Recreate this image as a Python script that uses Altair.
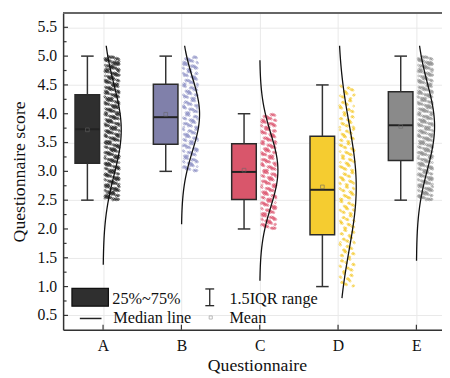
import altair as alt
import pandas as pd
import numpy as np

# ---------------- data ----------------
cats = ["A", "B", "C", "D", "E"]
q1 = [3.14, 3.47, 2.51, 1.90, 3.19]
q3 = [4.33, 4.51, 3.48, 3.61, 4.38]
medians = [3.73, 3.94, 2.99, 2.68, 3.80]
whisk_lo = [2.5, 3.0, 2.0, 1.0, 2.5]
whisk_hi = [5.0, 5.0, 4.0, 4.5, 5.0]
means = [3.72, 3.99, 3.02, 2.73, 3.78]
sds = [0.78, 0.64, 0.64, 1.10, 0.75]
curve_lo = [1.38, 2.08, 1.10, 0.80, 1.45]
curve_hi = [5.18, 5.18, 4.93, 5.18, 5.18]
# estimated number of raw scores in each 0.25-wide band, from the lowest score upward
band_counts = {
    "A": [70, 64, 64, 64, 64, 64, 64, 64, 64, 72],
    "B": [44, 42, 42, 42, 42, 42, 42, 46],
    "C": [50, 48, 48, 48, 48, 48, 48, 50],
    "D": [20, 20, 22, 24, 26, 26, 28, 28, 28, 28, 26, 26, 24, 22],
    "E": [64, 60, 60, 60, 60, 60, 60, 60, 60, 66],
}
box_fill = ["#2f2f2f", "#8080aa", "#d9566b", "#f5cc30", "#8a8a8a"]
pt_color = ["#1e1e1e", "#8a8dc4", "#dc4f6a", "#f5c518", "#8c8c8c"]
y_ticks = [0.5, 1.0, 1.5, 2.0, 2.5, 3.0, 3.5, 4.0, 4.5, 5.0, 5.5]
y_labels = ["0.5", "1.0", "1.5", "2.0", "2.5", "3.0", "3.5", "4.0", "4.5", "5.0", "5.5"]
y_minor = [0.75, 1.25, 1.75, 2.25, 2.75, 3.25, 3.75, 4.25, 4.75, 5.25]

# ---------------- layout constants (category units) ----------------
BOX_L, BOX_R, CENTER, CAP = -0.358, -0.044, -0.2, 0.08
STRIP_L, STRIP_W = 0.02, 0.19
CURVE_W = 0.232
W, H = 385, 322
FONT = "Liberation Serif"


def halton(i, b):
    f, r = 1.0, 0.0
    while i > 0:
        f /= b
        r += f * (i % b)
        i //= b
    return r


box_rows, pt_rows, curve_rows = [], [], []
for i, c in enumerate(cats):
    box_rows.append(dict(cat=c, xl=i + BOX_L, xr=i + BOX_R, xc=i + CENTER,
                         cl=i + CENTER - CAP, cr=i + CENTER + CAP,
                         q1=q1[i], q3=q3[i], med=medians[i], lo=whisk_lo[i],
                         hi=whisk_hi[i], mean=means[i], fill=box_fill[i]))
    for b, n in enumerate(band_counts[c]):
        for k in range(n):
            y = whisk_lo[i] + 0.25 * (b + halton(k + 1, 2))
            xf = ((k + 1) * 0.6180339887 + b * 0.37) % 1.0
            pt_rows.append(dict(cat=c, x=i + STRIP_L + STRIP_W * xf, y=y, col=pt_color[i]))
    for y in np.linspace(curve_lo[i], curve_hi[i], 120):
        z = (y - means[i]) / sds[i]
        curve_rows.append(dict(cat=c, x=i + CURVE_W * np.exp(-0.5 * z * z), y=y))

boxes = pd.DataFrame(box_rows)
pts = pd.DataFrame(pt_rows)
curves = pd.DataFrame(curve_rows)

xs = alt.Scale(domain=[-0.51, 4.327], nice=False, zero=False)
ys = alt.Scale(domain=[0.25, 5.75], nice=False, zero=False)

xaxis = alt.Axis(values=[0, 1, 2, 3, 4], labelExpr="['A','B','C','D','E'][datum.value]",
                 title="Questionnaire", grid=True, gridColor="#e9e9e9", tickSize=0,
                 labelOverlap=False,
                 labelPadding=8, labelFont=FONT, labelFontSize=16, labelColor="#111",
                 titleFont=FONT, titleFontSize=18, titleFontWeight="normal", titleColor="#111",
                 titlePadding=3, titleX=197, domainColor="#333", domainWidth=1.5)
yaxis = alt.Axis(values=y_ticks, labels=False,
                 title="Questionnaire score", grid=True, gridColor="#e9e9e9", tickSize=0,
                 titleFont=FONT, titleFontSize=18, titleFontWeight="normal", titleColor="#111",
                 titlePadding=35, domainColor="#333", domainWidth=1.5)

base_b = alt.Chart(boxes)

box = base_b.mark_rect(stroke="#2a2a2a", strokeWidth=1.5).encode(
    x=alt.X("xl:Q", scale=xs, axis=xaxis), x2="xr:Q",
    y=alt.Y("q1:Q", scale=ys, axis=yaxis), y2="q3:Q",
    fill=alt.Fill("fill:N", scale=None))
whisk_low = base_b.mark_rule(color="#333", strokeWidth=1.5).encode(
    x=alt.X("xc:Q", scale=xs), y=alt.Y("lo:Q", scale=ys), y2="q1:Q")
whisk_high = base_b.mark_rule(color="#333", strokeWidth=1.5).encode(
    x=alt.X("xc:Q", scale=xs), y=alt.Y("q3:Q", scale=ys), y2="hi:Q")
cap_low = base_b.mark_rule(color="#333", strokeWidth=1.5).encode(
    x=alt.X("cl:Q", scale=xs), x2="cr:Q", y=alt.Y("lo:Q", scale=ys))
cap_high = base_b.mark_rule(color="#333", strokeWidth=1.5).encode(
    x=alt.X("cl:Q", scale=xs), x2="cr:Q", y=alt.Y("hi:Q", scale=ys))
med = base_b.mark_rule(color="#222", strokeWidth=2).encode(
    x=alt.X("xl:Q", scale=xs), x2="xr:Q", y=alt.Y("med:Q", scale=ys))
mean = base_b.mark_point(shape="square", filled=False, size=14, color="#666",
                         strokeWidth=0.8).encode(
    x=alt.X("xc:Q", scale=xs), y=alt.Y("mean:Q", scale=ys))

points = alt.Chart(pts).mark_point(filled=False, size=3.5, strokeWidth=0.6, opacity=0.9).encode(
    x=alt.X("x:Q", scale=xs), y=alt.Y("y:Q", scale=ys),
    color=alt.Color("col:N", scale=None))

curve = alt.Chart(curves).mark_line(color="#111", strokeWidth=1.3).encode(
    x=alt.X("x:Q", scale=xs), y=alt.Y("y:Q", scale=ys),
    detail="cat:N", order="y:Q")

# y tick labels and inward ticks
ymaj = pd.DataFrame({"v": y_ticks, "lab": y_labels})
ymin = pd.DataFrame({"v": y_minor})
xt = pd.DataFrame({"v": [0, 1, 2, 3, 4]})
ylab = alt.Chart(ymaj).mark_text(font=FONT, fontSize=16, color="#111", align="right",
                                 baseline="middle").encode(
    y=alt.Y("v:Q", scale=ys), x=alt.value(-6), text="lab:N")
ytick_maj = alt.Chart(ymaj).mark_rule(color="#333", strokeWidth=1.2).encode(
    y=alt.Y("v:Q", scale=ys), x=alt.value(0), x2=alt.value(5))
ytick_min = alt.Chart(ymin).mark_rule(color="#333", strokeWidth=1.2).encode(
    y=alt.Y("v:Q", scale=ys), x=alt.value(0), x2=alt.value(3.5))
xtick = alt.Chart(xt).mark_rule(color="#333", strokeWidth=1.2).encode(
    x=alt.X("v:Q", scale=xs), y=alt.value(H), y2=alt.value(H - 5))
top_line = alt.Chart(xt).mark_rule(color="#666", strokeWidth=2).encode(
    x=alt.value(0), x2=alt.value(W), y=alt.value(0))

# legend (inside the plot, bottom-left)
leg = pd.DataFrame({"k": [0]})
lg = alt.Chart(leg)
leg_box = lg.mark_rect(fill="#2f2f2f", stroke="#111", strokeWidth=1.3).encode(
    x=alt.value(9), x2=alt.value(46), y=alt.value(280), y2=alt.value(298))
leg_med = lg.mark_rule(color="#222", strokeWidth=1.5).encode(
    x=alt.value(17), x2=alt.value(39), y=alt.value(310.5))
leg_iqr_v = lg.mark_rule(color="#222", strokeWidth=1.3).encode(
    x=alt.value(149), y=alt.value(280.5), y2=alt.value(297.5))
leg_iqr_t = lg.mark_rule(color="#222", strokeWidth=1.3).encode(
    x=alt.value(144.5), x2=alt.value(153.5), y=alt.value(280.5))
leg_iqr_b = lg.mark_rule(color="#222", strokeWidth=1.3).encode(
    x=alt.value(144.5), x2=alt.value(153.5), y=alt.value(297.5))
leg_mean = lg.mark_point(shape="square", filled=False, size=10, color="#888",
                         strokeWidth=0.8).encode(x=alt.value(150), y=alt.value(309.5))
tstyle = dict(font=FONT, fontSize=16.5, color="#111", align="left", baseline="alphabetic")
leg_t1 = lg.mark_text(text="25%~75%", **tstyle).encode(x=alt.value(50), y=alt.value(296))
leg_t2 = lg.mark_text(text="1.5IQR range", **tstyle).encode(x=alt.value(169), y=alt.value(296))
leg_t3 = lg.mark_text(text="Median line", **tstyle).encode(x=alt.value(51), y=alt.value(315))
leg_t4 = lg.mark_text(text="Mean", **tstyle).encode(x=alt.value(169), y=alt.value(315))

chart = alt.layer(
    box, whisk_low, whisk_high, cap_low, cap_high, med, mean, points, curve,
    ylab, ytick_maj, ytick_min, xtick, top_line,
    leg_box, leg_med, leg_iqr_v, leg_iqr_t, leg_iqr_b, leg_mean,
    leg_t1, leg_t2, leg_t3, leg_t4,
).properties(
    width=W, height=H,
    autosize=alt.AutoSizeParams(type="none"),
    padding={"left": 56, "top": 2, "right": 0, "bottom": 46},
).configure_view(stroke=None).configure(background="white")

chart.save("out.html", embed_options={"renderer": "svg", "actions": False})
